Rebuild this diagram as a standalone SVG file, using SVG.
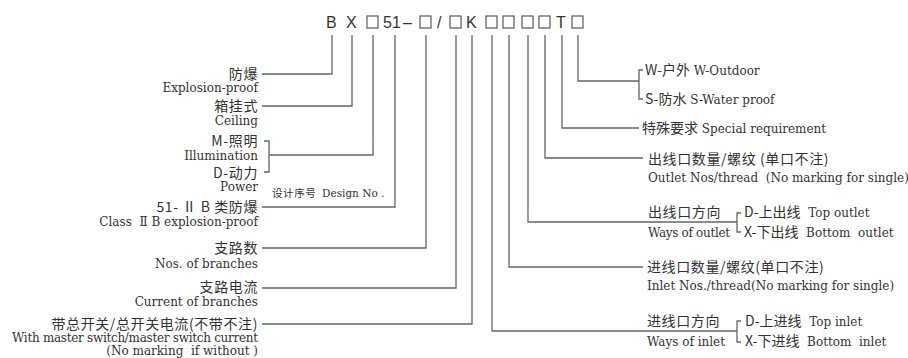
<svg xmlns="http://www.w3.org/2000/svg" width="908" height="358" viewBox="0 0 908 358">
<style>
.code{font-family:"Liberation Sans",Arial,sans-serif;font-size:16px;fill:#333}
.zh{font-family:"Noto Sans CJK SC","Liberation Sans",sans-serif;font-size:14px;letter-spacing:0.6px;fill:#333}
.en{font-family:"DejaVu Serif","Liberation Serif",serif;font-size:12px;fill:#333;white-space:pre}
.en .zh{letter-spacing:0}
.sm{font-size:10.5px}
.r{text-anchor:end}
.ln{fill:none;stroke:#666;stroke-width:1.3}
</style>
<rect width="908" height="358" fill="#fff"/>
<g id="code">
<text class="code" x="326" y="28">B</text>
<text class="code" x="346" y="28">X</text>
<rect x="367" y="16" width="11" height="12" class="ln"/>
<text class="code" x="383" y="28">51</text>
<text class="code" x="403" y="28">–</text>
<rect x="420" y="16" width="11" height="12" class="ln"/>
<text class="code" x="437" y="28">/</text>
<rect x="450" y="16" width="11" height="12" class="ln"/>
<text class="code" x="466" y="28">K</text>
<rect x="486" y="16" width="11" height="12" class="ln"/>
<rect x="503" y="16" width="11" height="12" class="ln"/>
<rect x="522" y="16" width="11" height="12" class="ln"/>
<rect x="539" y="16" width="11" height="12" class="ln"/>
<text class="code" x="556" y="28">T</text>
<rect x="572" y="16" width="11" height="12" class="ln"/>
</g>
<g id="connectors">
<path class="ln" d="M332 35V74H262"/>
<path class="ln" d="M352 35V106H262"/>
<path class="ln" d="M373 35V155H269M264 141H269V172H264"/>
<path class="ln" d="M395 35V207H262"/>
<path class="ln" d="M426 35V248H262"/>
<path class="ln" d="M456 35V288H262"/>
<path class="ln" d="M472 35V324H262"/>
<path class="ln" d="M578 35V81H639M643 70H639V99H643"/>
<path class="ln" d="M562 35V128H639"/>
<path class="ln" d="M545 35V158H643"/>
<path class="ln" d="M528 35V222H737M741 213H737V232H741"/>
<path class="ln" d="M509 35V267H643"/>
<path class="ln" d="M492 35V331H737M741 321H737V342H741"/>
</g>
<g id="n-explosion">
<text class="zh r" x="258" y="79">防爆</text>
<text class="en r" x="258" y="92">Explosion-proof</text>
</g>
<g id="n-ceiling">
<text class="zh r" x="258" y="111">箱挂式</text>
<text class="en r" x="258" y="125">Ceiling</text>
</g>
<g id="n-illum">
<text class="zh r" x="258" y="146">M-照明</text>
<text class="en r" x="258" y="160">Illumination</text>
<text class="zh r" x="258" y="178">D-动力</text>
<text class="en r" x="258" y="191">Power</text>
</g>
<g id="n-design">
<text class="zh sm" x="272" y="197">设计序号</text>
<text class="en sm" x="322" y="197">Design No .</text>
</g>
<g id="n-class">
<text class="zh r" x="258" y="212">51- Ⅱ B 类防爆</text>
<text class="en r" x="258" y="226">Class  Ⅱ B explosion-proof</text>
</g>
<g id="n-branches">
<text class="zh r" x="258" y="253">支路数</text>
<text class="en r" x="258" y="268">Nos. of branches</text>
</g>
<g id="n-current">
<text class="zh r" x="258" y="292">支路电流</text>
<text class="en r" x="258" y="306">Current of branches</text>
</g>
<g id="n-master">
<text class="zh r" x="258" y="329">带总开关/总开关电流(不带不注)</text>
<text class="en r" x="258" y="342" textLength="246">With master switch/master switch current</text>
<text class="en r" x="258" y="355">(No marking  if without )</text>
</g>
<g id="n-outdoor">
<text class="en" x="645" y="75"><tspan class="zh">W-户外</tspan> W-Outdoor</text>
<text class="en" x="645" y="104"><tspan class="zh">S-防水</tspan> S-Water proof</text>
</g>
<g id="n-special">
<text class="en" x="642" y="133"><tspan class="zh">特殊要求</tspan> Special requirement</text>
</g>
<g id="n-outletnos">
<text class="zh" x="648" y="164">出线口数量/螺纹 (单口不注)</text>
<text class="en" x="648" y="182">Outlet Nos/thread  (No marking for single)</text>
</g>
<g id="n-outletway">
<text class="zh" x="648" y="217">出线口方向</text>
<text class="en" x="648" y="237" textLength="82">Ways of outlet</text>
<text class="en" x="744" y="217"><tspan class="zh">D-上出线</tspan>  Top outlet</text>
<text class="en" x="744" y="237"><tspan class="zh">X-下出线</tspan>  Bottom  outlet</text>
</g>
<g id="n-inletnos">
<text class="zh" x="647" y="272">进线口数量/螺纹(单口不注)</text>
<text class="en" x="647" y="290">Inlet Nos./thread(No marking for single)</text>
</g>
<g id="n-inletway">
<text class="zh" x="647" y="326">进线口方向</text>
<text class="en" x="647" y="346">Ways of inlet</text>
<text class="en" x="745" y="326"><tspan class="zh">D-上进线</tspan>  Top inlet</text>
<text class="en" x="745" y="346"><tspan class="zh">X-下进线</tspan>  Bottom  inlet</text>
</g>
</svg>
